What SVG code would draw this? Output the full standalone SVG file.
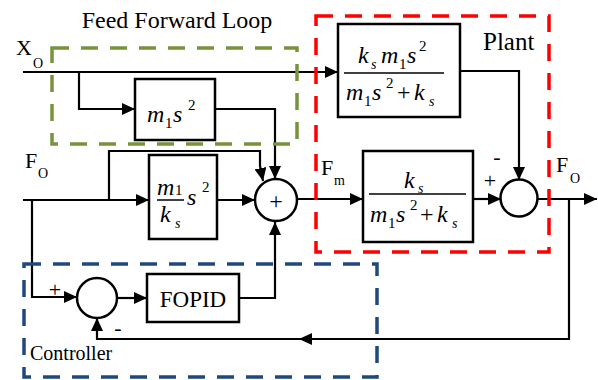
<svg xmlns="http://www.w3.org/2000/svg" width="598" height="380" viewBox="0 0 598 380" font-family="Liberation Serif, Tinos, Times New Roman, DejaVu Serif, serif">
<defs>
<style>
.ln{fill:none;stroke:#000;stroke-width:2.2}
.bx{fill:#fff;stroke:#000;stroke-width:2.5}
.cr{fill:#fff;stroke:#000;stroke-width:2.5}
text{fill:#000}
.mi{font-style:italic}
.dash{fill:none;stroke-width:3.5;stroke-dasharray:17 12}
</style>
<marker id="ah" viewBox="0 0 13 12" refX="13" refY="6" markerWidth="13" markerHeight="12" markerUnits="userSpaceOnUse" orient="auto">
<path d="M0,0 L13,6 L0,12 Z" fill="#000"/>
</marker>
</defs>
<rect width="598" height="380" fill="#fff"/>

<g id="connectors">
<path class="ln" d="M23 72 H338" marker-end="url(#ah)"/>
<path class="ln" d="M79 72 V109 H135" marker-end="url(#ah)"/>
<path class="ln" d="M215 109 H275 V179" marker-end="url(#ah)"/>
<path class="ln" d="M109 200 V151 H260 V166 L263 181" marker-end="url(#ah)"/>
<path class="ln" d="M23 200 H149" marker-end="url(#ah)"/>
<path class="ln" d="M217 200 H255" marker-end="url(#ah)"/>
<path class="ln" d="M297 199 H363" marker-end="url(#ah)"/>
<path class="ln" d="M473 199 H501" marker-end="url(#ah)"/>
<path class="ln" d="M460 71 H519 V180" marker-end="url(#ah)"/>
<path class="ln" d="M537 199 H597" marker-end="url(#ah)"/>
<path class="ln" d="M569 199 V339 H97 V318" marker-end="url(#ah)"/>
<path d="M299 339 L312 333 L312 345 Z" fill="#000"/>
<path class="ln" d="M32 200 V297 H77" marker-end="url(#ah)"/>
<path class="ln" d="M117 298 H147" marker-end="url(#ah)"/>
<path class="ln" d="M239 298 H275 V222" marker-end="url(#ah)"/>
</g>

<g id="plant_ff">
<rect class="bx" x="338" y="24" width="122" height="93"/>
<text class="mi" x="358" y="63" font-size="24">k</text>
<text class="mi" x="371" y="69" font-size="14">s</text>
<text class="mi" x="381" y="63" font-size="24">m</text>
<text x="399" y="69" font-size="15">1</text>
<text class="mi" x="407" y="63" font-size="24">s</text>
<text x="419" y="51" font-size="15">2</text>
<line x1="344" y1="73" x2="444" y2="73" stroke="#000" stroke-width="1.5"/>
<text class="mi" x="346" y="100" font-size="24">m</text>
<text x="364" y="106" font-size="15">1</text>
<text class="mi" x="372" y="100" font-size="24">s</text>
<text x="386" y="88" font-size="15">2</text>
<text x="397" y="100" font-size="24">+</text>
<text class="mi" x="414" y="100" font-size="24">k</text>
<text class="mi" x="429" y="106" font-size="14">s</text>
</g>

<g id="m1s2">
<rect class="bx" x="135" y="79" width="80" height="61"/>
<text class="mi" x="147" y="122" font-size="24">m</text>
<text x="165" y="128" font-size="15">1</text>
<text class="mi" x="173" y="122" font-size="24">s</text>
<text x="188" y="110" font-size="15">2</text>
</g>

<g id="m1ks">
<rect class="bx" x="149" y="155" width="68" height="84"/>
<text class="mi" x="157" y="195" font-size="24">m</text>
<text x="175" y="195" font-size="15">1</text>
<line x1="157" y1="200" x2="184" y2="200" stroke="#000" stroke-width="1.5"/>
<text class="mi" x="160" y="222" font-size="24">k</text>
<text class="mi" x="175" y="228" font-size="14">s</text>
<text class="mi" x="187" y="205" font-size="24">s</text>
<text x="202" y="192" font-size="15">2</text>
</g>

<g id="sum1">
<circle class="cr" cx="276" cy="200" r="21"/>
<text x="276" y="209" font-size="24" text-anchor="middle">+</text>
</g>

<g id="plant">
<rect class="bx" x="363" y="151" width="110" height="91"/>
<text class="mi" x="404" y="188" font-size="24">k</text>
<text class="mi" x="418" y="193" font-size="14">s</text>
<line x1="369" y1="194" x2="466" y2="194" stroke="#000" stroke-width="1.5"/>
<text class="mi" x="370" y="222" font-size="24">m</text>
<text x="388" y="228" font-size="15">1</text>
<text class="mi" x="396" y="222" font-size="24">s</text>
<text x="410" y="210" font-size="15">2</text>
<text x="420" y="222" font-size="24">+</text>
<text class="mi" x="437" y="222" font-size="24">k</text>
<text class="mi" x="452" y="228" font-size="14">s</text>
</g>

<g id="sum2">
<circle class="cr" cx="519" cy="198" r="18.5"/>
<text x="490" y="188" font-size="22" text-anchor="middle">+</text>
<text x="497" y="164" font-size="22" text-anchor="middle">-</text>
</g>

<g id="sum3">
<circle class="cr" cx="97" cy="298" r="20"/>
<text x="55" y="297" font-size="22" text-anchor="middle">+</text>
<text x="118" y="335" font-size="22" text-anchor="middle">-</text>
</g>

<g id="fopid">
<rect class="bx" x="147" y="274" width="92" height="48"/>
<text x="193" y="307" font-size="23" text-anchor="middle">FOPID</text>
</g>

<g id="labels">
<text x="177" y="28" font-size="24" text-anchor="middle">Feed Forward Loop</text>
<text x="483" y="50" font-size="25">Plant</text>
<text x="16" y="55" font-size="22">X</text>
<text x="33" y="68" font-size="14">O</text>
<text x="25" y="168" font-size="22">F</text>
<text x="38" y="178" font-size="14">O</text>
<text x="321" y="175" font-size="22">F</text>
<text x="334" y="185" font-size="14">m</text>
<text x="556" y="172" font-size="22">F</text>
<text x="570" y="183" font-size="14">O</text>
<text x="30" y="360" font-size="20">Controller</text>
</g>

<g id="regions">
<rect class="dash" x="52" y="48" width="245" height="96" stroke="#77933C"/>
<rect class="dash" x="316" y="16" width="233" height="236" stroke="#FF0000"/>
<rect class="dash" x="24" y="264" width="353" height="113" stroke="#1F497D"/>
</g>
</svg>
